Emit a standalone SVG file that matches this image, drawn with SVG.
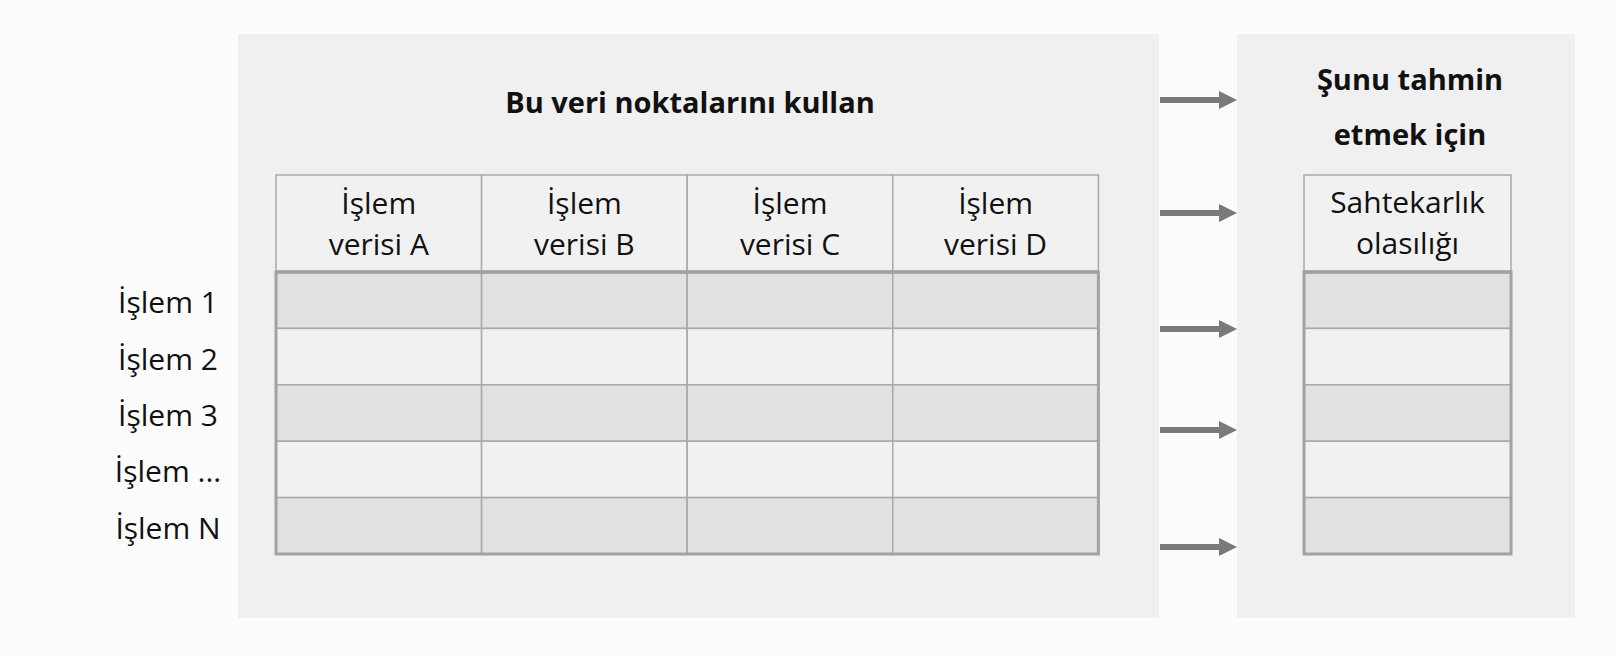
<svg xmlns="http://www.w3.org/2000/svg" width="1616" height="656" viewBox="0 0 1616 656">
  <defs>
    <style>
      .panel { fill: #f0f0f0; }
      .hdr { fill: #f1f1f1; stroke: #a9a9a9; stroke-width: 1.5; }
      .dark { fill: #e1e1e1; stroke: #a9a9a9; stroke-width: 1.5; }
      .light { fill: #f1f1f1; stroke: #a9a9a9; stroke-width: 1.5; }
      .outline { fill: none; stroke: #a2a2a2; stroke-width: 3; }
      .sep { stroke: #a2a2a2; stroke-width: 3.5; }
      .t { font-family: "Open Sans", "Liberation Sans", sans-serif; font-size: 30px; fill: #111; text-anchor: middle; }
      .b { font-family: "Open Sans", "Liberation Sans", sans-serif; font-size: 29px; font-weight: bold; fill: #111; text-anchor: middle; }
      .arrow { stroke: #7a7a7a; stroke-width: 6; fill: none; }
    </style>
    <marker id="ah" markerUnits="userSpaceOnUse" markerWidth="18" markerHeight="18" refX="1" refY="9" orient="auto" viewBox="0 0 18 18">
      <path d="M0,0 L18,9 L0,18 z" fill="#7a7a7a"/>
    </marker>
  </defs>
  <rect x="0" y="0" width="1616" height="656" fill="#fcfcfc"/>

  <g id="input-panel">
    <rect class="panel" x="238" y="34" width="921" height="584"/>
    <text class="b" x="690" y="113">Bu veri noktalarını kullan</text>
  </g>

  <g id="output-panel">
    <rect class="panel" x="1237" y="34" width="338" height="584"/>
    <text class="b" x="1410" y="90">Şunu tahmin</text>
    <text class="b" x="1410" y="145">etmek için</text>
  </g>

  <g id="row-labels">
    <text class="t" x="168" y="313">İşlem 1</text>
    <text class="t" x="168" y="369.6">İşlem 2</text>
    <text class="t" x="168" y="426">İşlem 3</text>
    <text class="t" x="168" y="482.4">İşlem ...</text>
    <text class="t" x="168" y="538.8">İşlem N</text>
  </g>

  <g id="data-table">
    <rect class="hdr" x="276" y="175" width="205.6" height="97"/>
    <rect class="hdr" x="481.6" y="175" width="205.6" height="97"/>
    <rect class="hdr" x="687.2" y="175" width="205.6" height="97"/>
    <rect class="hdr" x="892.8" y="175" width="205.6" height="97"/>
    <text class="t" x="378.8" y="214">İşlem</text>
    <text class="t" x="378.8" y="255">verisi A</text>
    <text class="t" x="584.4" y="214">İşlem</text>
    <text class="t" x="584.4" y="255">verisi B</text>
    <text class="t" x="790" y="214">İşlem</text>
    <text class="t" x="790" y="255">verisi C</text>
    <text class="t" x="995.6" y="214">İşlem</text>
    <text class="t" x="995.6" y="255">verisi D</text>

    <g id="rows-left">
      <rect class="dark" x="276" y="272" width="205.6" height="56.4"/>
      <rect class="dark" x="481.6" y="272" width="205.6" height="56.4"/>
      <rect class="dark" x="687.2" y="272" width="205.6" height="56.4"/>
      <rect class="dark" x="892.8" y="272" width="205.6" height="56.4"/>
      <rect class="light" x="276" y="328.4" width="205.6" height="56.4"/>
      <rect class="light" x="481.6" y="328.4" width="205.6" height="56.4"/>
      <rect class="light" x="687.2" y="328.4" width="205.6" height="56.4"/>
      <rect class="light" x="892.8" y="328.4" width="205.6" height="56.4"/>
      <rect class="dark" x="276" y="384.8" width="205.6" height="56.4"/>
      <rect class="dark" x="481.6" y="384.8" width="205.6" height="56.4"/>
      <rect class="dark" x="687.2" y="384.8" width="205.6" height="56.4"/>
      <rect class="dark" x="892.8" y="384.8" width="205.6" height="56.4"/>
      <rect class="light" x="276" y="441.2" width="205.6" height="56.4"/>
      <rect class="light" x="481.6" y="441.2" width="205.6" height="56.4"/>
      <rect class="light" x="687.2" y="441.2" width="205.6" height="56.4"/>
      <rect class="light" x="892.8" y="441.2" width="205.6" height="56.4"/>
      <rect class="dark" x="276" y="497.6" width="205.6" height="56.4"/>
      <rect class="dark" x="481.6" y="497.6" width="205.6" height="56.4"/>
      <rect class="dark" x="687.2" y="497.6" width="205.6" height="56.4"/>
      <rect class="dark" x="892.8" y="497.6" width="205.6" height="56.4"/>
      <rect class="outline" x="276" y="272" width="822.4" height="282"/>
      <line class="sep" x1="276" y1="272" x2="1098.4" y2="272"/>
    </g>
  </g>

  <g id="result-table">
    <rect class="hdr" x="1304" y="175" width="207" height="97"/>
    <text class="t" x="1407.5" y="213">Sahtekarlık</text>
    <text class="t" x="1407.5" y="254">olasılığı</text>
    <rect class="dark" x="1304" y="272" width="207" height="56.4"/>
    <rect class="light" x="1304" y="328.4" width="207" height="56.4"/>
    <rect class="dark" x="1304" y="384.8" width="207" height="56.4"/>
    <rect class="light" x="1304" y="441.2" width="207" height="56.4"/>
    <rect class="dark" x="1304" y="497.6" width="207" height="56.4"/>
    <rect class="outline" x="1304" y="272" width="207" height="282"/>
    <line class="sep" x1="1304" y1="272" x2="1511" y2="272"/>
  </g>

  <g id="connectors">
    <line class="arrow" x1="1160" y1="100" x2="1220" y2="100" marker-end="url(#ah)"/>
    <line class="arrow" x1="1160" y1="213" x2="1220" y2="213" marker-end="url(#ah)"/>
    <line class="arrow" x1="1160" y1="329" x2="1220" y2="329" marker-end="url(#ah)"/>
    <line class="arrow" x1="1160" y1="430" x2="1220" y2="430" marker-end="url(#ah)"/>
    <line class="arrow" x1="1160" y1="547" x2="1220" y2="547" marker-end="url(#ah)"/>
  </g>
</svg>
